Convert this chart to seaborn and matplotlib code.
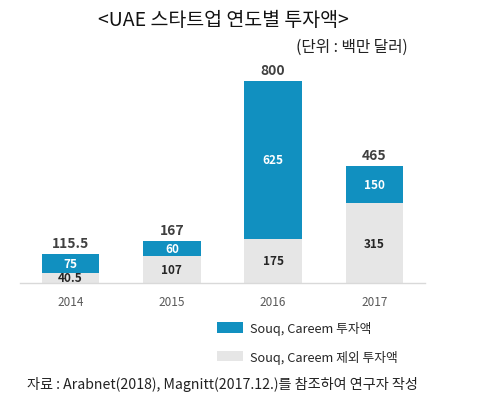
import matplotlib
matplotlib.use('Agg')
from matplotlib import pyplot as plt
from matplotlib.patches import Patch
import seaborn as sns
import pandas as pd

years = ['2014', '2015', '2016', '2017']
souq_careem = [75, 60, 625, 150]
others = [40.5, 107, 175, 315]
total_labels = ['115.5', '167', '800', '465']
souq_labels = ['75', '60', '625', '150']
other_labels = ['40.5', '107', '175', '315']

blue = '#1190c0'
grey = '#e6e6e6'

sns.set_theme(style='white')
plt.rcParams['font.family'] = ['Noto Sans CJK KR', 'DejaVu Sans']

df = pd.DataFrame({'year': years, 'souq': souq_careem, 'other': others})
df['total'] = df['souq'] + df['other']

fig = plt.figure(figsize=(4.91, 4.02), dpi=100)
ax = fig.add_axes([20 / 491, 118 / 402, 405 / 491, 202 / 402])

sns.barplot(data=df, x='year', y='total', color=blue, saturation=1,
            width=0.57, ax=ax, linewidth=0)
sns.barplot(data=df, x='year', y='other', color=grey, saturation=1,
            width=0.57, ax=ax, linewidth=0)

ax.set_xlim(-0.5, 3.5)
ax.set_ylim(0, 800)
ax.set_xlabel('')
ax.set_ylabel('')
ax.set_yticks([])
for s in ['top', 'left', 'right']:
    ax.spines[s].set_visible(False)
ax.spines['bottom'].set_color('#d9d9d9')
ax.spines['bottom'].set_linewidth(1)
ax.tick_params(axis='x', length=0, pad=9, labelsize=8.5, labelcolor='#595959')

for i, row in df.iterrows():
    ax.text(i, row['total'] + 14, total_labels[i], ha='center', va='bottom',
            fontsize=10, fontweight='bold', color='#404040', clip_on=False)
    ax.text(i, row['other'] + row['souq'] / 2, souq_labels[i], ha='center', va='center',
            fontsize=8.5, fontweight='bold', color='white')
    ax.text(i, row['other'] / 2, other_labels[i], ha='center', va='center',
            fontsize=8.5, fontweight='bold', color='#262626')

fig.text(223 / 491, 1 - 21 / 402, '<UAE 스타트업 연도별 투자액>', ha='center', va='center',
         fontsize=14, color='#111111')
fig.text(408 / 491, 1 - 47 / 402, '(단위 : 백만 달러)', ha='right', va='center',
         fontsize=11.3, color='#222222')
fig.text(27 / 491, 1 - 385 / 402, '자료 : Arabnet(2018), Magnitt(2017.12.)를 참조하여 연구자 작성',
         ha='left', va='center', fontsize=10.2, color='#222222')

handles = [Patch(facecolor=blue, edgecolor='none'), Patch(facecolor=grey, edgecolor='none')]
fig.legend(handles, ['Souq, Careem 투자액', 'Souq, Careem 제외 투자액'],
           loc='upper left', bbox_to_anchor=(217 / 491, 1 - 322 / 402), frameon=False,
           fontsize=9.2, handlelength=2.0, handleheight=0.85, labelspacing=1.15,
           handletextpad=0.55, borderpad=0, borderaxespad=0, labelcolor='#262626')

fig.savefig('out.png', dpi=100)
